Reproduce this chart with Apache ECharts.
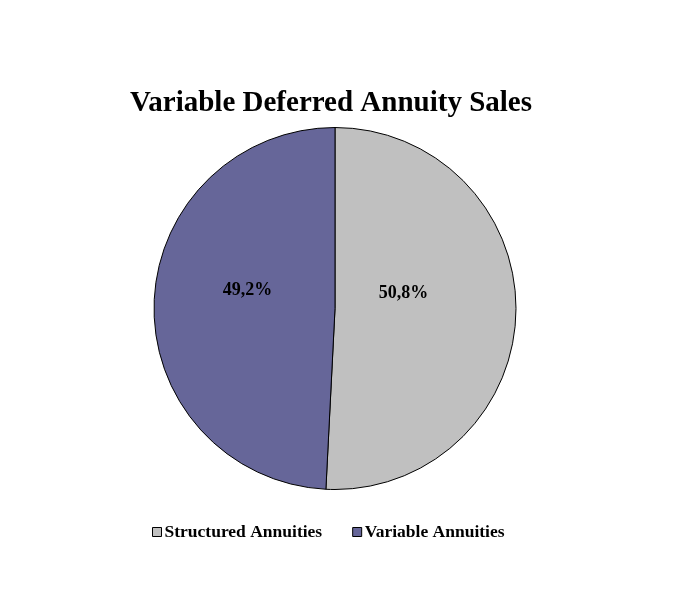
<!DOCTYPE html>
<html>
<head>
<meta charset="utf-8">
<script src="https://cdn.jsdelivr.net/npm/echarts@6/dist/echarts.min.js"></script>
<style>html,body{margin:0;padding:0;background:#fff}#c{width:697px;height:599px}</style>
</head>
<body>
<div id="c"></div>
<script>
var categories = ['Structured Annuities', 'Variable Annuities'];
var values = [50.8, 49.2];
var labels = ['50,8%', '49,2%'];
var colors = ['#C0C0C0', '#666699'];

var chart = echarts.init(document.getElementById('c'), null, {renderer: 'canvas'});
var labelShift = [[-25, -18], [6, -16]];
chart.setOption({
  animation: false,
  backgroundColor: '#ffffff',
  title: {
    text: 'Variable Deferred Annuity Sales',
    left: 326, top: 84, textAlign: 'center',
    textStyle: {fontFamily: 'Liberation Serif', fontWeight: 'bold', fontSize: 29, color: '#000'}
  },
  legend: {
    left: 147, top: 518,
    itemWidth: 9, itemHeight: 9, itemGap: 30,
    icon: 'rect',
    itemStyle: {borderColor: '#000', borderWidth: 1},
    textStyle: {fontFamily: 'Liberation Serif', fontWeight: 'bold', fontSize: 17.5, color: '#000', padding: [0, 0, 0, -2]},
    data: categories
  },
  series: [{
    type: 'pie',
    center: [335, 308.5],
    radius: [0, 181],
    startAngle: 90,
    clockwise: true,
    avoidLabelOverlap: false,
    itemStyle: {borderColor: '#000', borderWidth: 1},
    label: {
      show: true, position: 'inside',
      fontFamily: 'Liberation Serif', fontWeight: 'bold', fontSize: 18, color: '#000',
      formatter: function (p) { return labels[p.dataIndex]; }
    },
    labelLayout: function (p) { return {dx: labelShift[p.dataIndex][0], dy: labelShift[p.dataIndex][1]}; },
    emphasis: {disabled: true},
    data: categories.map(function (c, i) {
      return {name: c, value: values[i], itemStyle: {color: colors[i]}};
    })
  }]
});
</script>
</body>
</html>
